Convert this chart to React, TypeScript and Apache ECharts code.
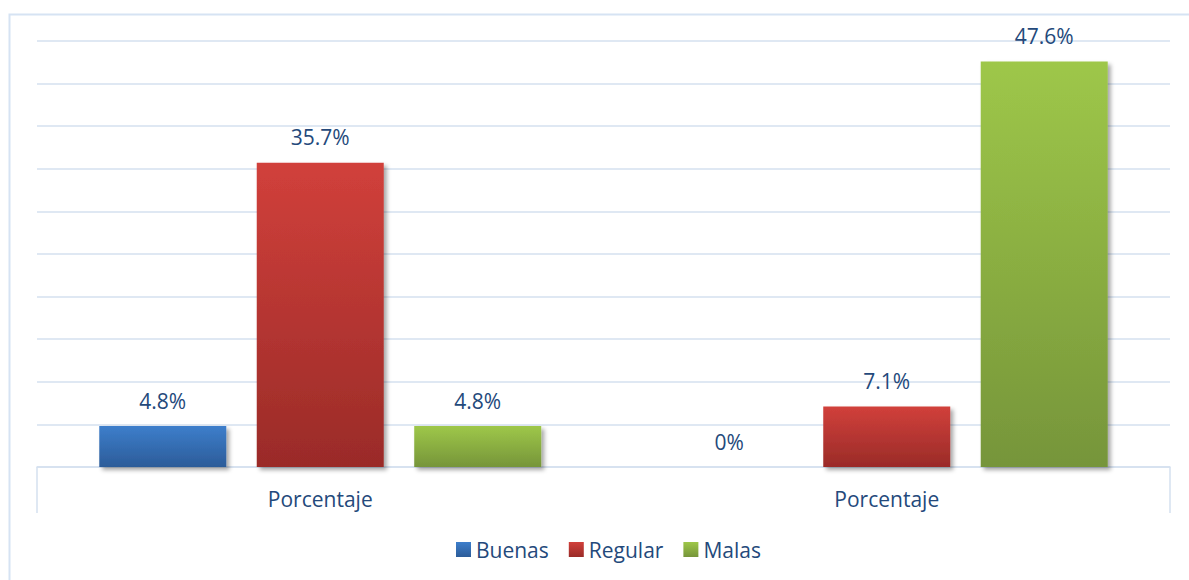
import React, { useEffect, useRef } from "react";
import * as echarts from "echarts";

const categories = ["Porcentaje", "Porcentaje"];
const buenas = [4.8, 0];
const regular = [35.7, 7.1];
const malas = [4.8, 47.6];

const FONT = "'Open Sans', 'Noto Sans', sans-serif";
const TEXT = "#24497b";

function grad(top: string, bottom: string) {
  return new echarts.graphic.LinearGradient(0, 0, 0, 1, [
    { offset: 0, color: top },
    { offset: 1, color: bottom },
  ]);
}

export default function App() {
  const ref = useRef<HTMLDivElement>(null);
  useEffect(() => {
    document.body.style.margin = "0";
    const chart = echarts.init(ref.current!, null, { renderer: "svg" });
    const label = {
      show: true,
      position: "top" as const,
      distance: 15,
      formatter: "{c}%",
      color: TEXT,
      fontSize: 21,
      fontFamily: FONT,
    };
    const shadow = {
      shadowColor: "rgba(0,0,0,0.35)",
      shadowBlur: 4,
      shadowOffsetX: 3,
      shadowOffsetY: 3,
    };
    chart.setOption({
      animation: false,
      backgroundColor: "#ffffff",
      graphic: [
        {
          type: "rect",
          left: 7,
          top: 12,
          shape: { width: 1300, height: 700 },
          style: { fill: "none", stroke: "#d6e3f3", lineWidth: 2 },
          silent: true,
          z: -10,
        },
      ],
      grid: { left: 37, right: 19, top: 41, bottom: 113 },
      legend: {
        bottom: 15,
        left: 451,
        itemWidth: 15,
        itemHeight: 15,
        itemGap: 20,
        icon: "rect",
        textStyle: { color: TEXT, fontSize: 21, fontFamily: FONT },
        data: ["Buenas", "Regular", "Malas"],
      },
      xAxis: {
        type: "category",
        data: categories,
        axisLine: { show: true, lineStyle: { color: "#d5e0ef", width: 1.5 } },
        axisTick: {
          show: true,
          length: 46,
          interval: (i: number) => i !== 1,
          lineStyle: { color: "#d5e0ef", width: 1.5 },
        },
        axisLabel: { color: TEXT, fontSize: 21, fontFamily: FONT, margin: 21 },
      },
      yAxis: {
        type: "value",
        min: 0,
        max: 50,
        interval: 5,
        axisLine: { show: false },
        axisTick: { show: false },
        axisLabel: { show: false },
        splitLine: { lineStyle: { color: "#d5e0ef", width: 1.5 } },
      },
      series: [
        {
          name: "Buenas",
          type: "bar",
          data: buenas,
          barWidth: 127,
          barGap: "24%",
          label,
          itemStyle: { color: grad("#3d7ecb", "#2c5c99"), ...shadow },
        },
        {
          name: "Regular",
          type: "bar",
          data: regular,
          barWidth: 127,
          barGap: "24%",
          label,
          itemStyle: { color: grad("#d1403b", "#9a2b28"), ...shadow },
        },
        {
          name: "Malas",
          type: "bar",
          data: malas,
          barWidth: 127,
          barGap: "24%",
          label,
          itemStyle: { color: grad("#9ec749", "#76953a"), ...shadow },
        },
      ],
    });
    return () => chart.dispose();
  }, []);
  return <div ref={ref} style={{ width: 1189, height: 580 }} />;
}
